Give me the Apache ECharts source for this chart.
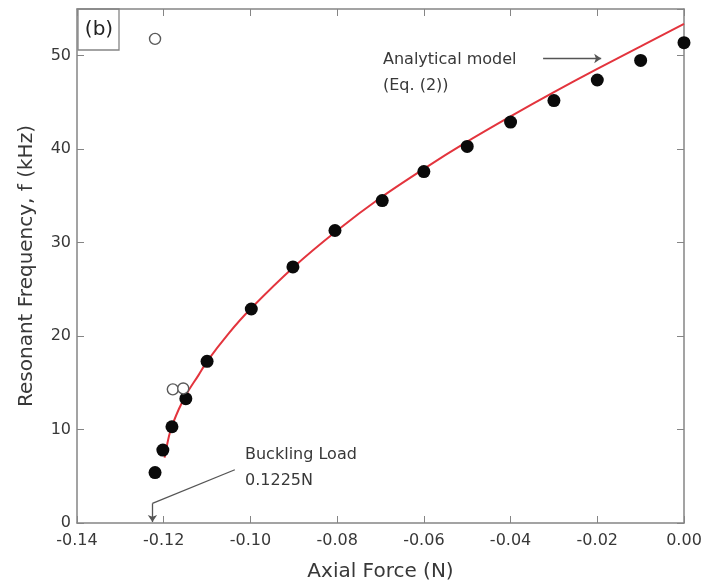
<!DOCTYPE html>
<html>
<head>
<meta charset="utf-8">
<script src="https://cdn.jsdelivr.net/npm/echarts@6.0.0/dist/echarts.min.js"></script>
<style>
  html, body { margin: 0; padding: 0; background: #fff; }
  #chart { width: 703px; height: 583px; }
</style>
</head>
<body>
<div id="chart"></div>
<script>
// measured resonant frequency (filled dots)
const measured = [
  [-0.1220, 5.4], [-0.1202, 7.8], [-0.1181, 10.3], [-0.1149, 13.3],
  [-0.1100, 17.3], [-0.0998, 22.9], [-0.0902, 27.4], [-0.0805, 31.3],
  [-0.0696, 34.5], [-0.0600, 37.6], [-0.0500, 40.3], [-0.0400, 42.9],
  [-0.0300, 45.2], [-0.0200, 47.4], [-0.0100, 49.5], [0.0000, 51.4]
]
// open circles (other mode / outliers)
const openPts = [[-0.1220, 51.8], [-0.1179, 14.3], [-0.1155, 14.4]]
// analytical model curve
const model = [
  [-0.1198, 7.0], [-0.1185, 9.8], [-0.1165, 12.2], [-0.1145, 14.0],
  [-0.1120, 15.8], [-0.1100, 17.3], [-0.1050, 20.3], [-0.1000, 22.9],
  [-0.0900, 27.4], [-0.0800, 31.3], [-0.0700, 34.8], [-0.0600, 37.9],
  [-0.0500, 40.8], [-0.0400, 43.5], [-0.0300, 46.1], [-0.0200, 48.6],
  [-0.0100, 51.0], [0.0000, 53.4]
]
const xRange = [-0.14, 0]
const yRange = [0, 55]

const axisGray = '#858585'
const textGray = '#383838'
const font = 'DejaVu Sans'

const chart = echarts.init(document.getElementById('chart'))

function frameAxis(pos) {
  return {
    type: 'value',
    position: pos,
    min: pos === 'top' ? xRange[0] : yRange[0],
    max: pos === 'top' ? xRange[1] : yRange[1],
    interval: pos === 'top' ? 0.02 : 10,
    axisLine: { show: true, onZero: false, lineStyle: { color: axisGray, width: 1.5 } },
    axisTick: { show: true, inside: true, length: 7, lineStyle: { color: axisGray } },
    axisLabel: { show: false },
    splitLine: { show: false },
  }
}

chart.setOption({
  animation: false,
  backgroundColor: '#fff',
  grid: { left: 77, right: 19, top: 9, bottom: 60, outerBoundsMode: 'none', containLabel: false },
  xAxis: [
    {
      type: 'value',
      min: xRange[0],
      max: xRange[1],
      interval: 0.02,
      name: 'Axial Force (N)',
      nameLocation: 'middle',
      nameGap: 39,
      nameTextStyle: { fontFamily: font, fontSize: 20, color: textGray },
      axisLine: { show: true, onZero: false, lineStyle: { color: axisGray, width: 1.5 } },
      axisTick: { show: true, inside: true, length: 7, lineStyle: { color: axisGray } },
      axisLabel: {
        fontFamily: font, fontSize: 16, color: textGray, margin: 10,
        formatter: (v) => v.toFixed(2),
      },
      splitLine: { show: false },
    },
    frameAxis('top'),
  ],
  yAxis: [
    {
      type: 'value',
      min: yRange[0],
      max: yRange[1],
      interval: 10,
      name: 'Resonant Frequency, f (kHz)',
      nameLocation: 'middle',
      nameGap: 40,
      nameTextStyle: { fontFamily: font, fontSize: 20, color: textGray },
      axisLine: { show: true, onZero: false, lineStyle: { color: axisGray, width: 1.5 } },
      axisTick: { show: true, inside: true, length: 7, lineStyle: { color: axisGray } },
      axisLabel: { fontFamily: font, fontSize: 16, color: textGray, margin: 6, showMaxLabel: false },
      splitLine: { show: false },
    },
    frameAxis('right'),
  ],
  series: [
    {
      name: 'Analytical model',
      type: 'line',
      data: model,
      smooth: 0.3,
      showSymbol: false,
      lineStyle: { color: '#e3343d', width: 2 },
      z: 3,
    },
    {
      name: 'Measured',
      type: 'scatter',
      data: measured,
      symbolSize: 13,
      itemStyle: { color: '#0a0a0a', opacity: 1 },
      z: 4,
    },
    {
      name: 'Open',
      type: 'scatter',
      data: openPts,
      symbolSize: 11,
      itemStyle: { color: '#fff', borderColor: '#5a5a5a', borderWidth: 1.4, opacity: 1 },
      z: 4,
    },
    // annotation arrows
    {
      type: 'line',
      data: [],
      markLine: {
        silent: true,
        animation: false,
        lineStyle: { color: '#555', width: 1.3, type: 'solid' },
        label: { show: false },
        data: [
          [
            { coord: [-0.0325, 49.7], symbol: 'none' },
            { coord: [-0.0191, 49.7], symbol: 'arrow', symbolSize: 7 },
          ],
          [
            { coord: [-0.1036, 5.7], symbol: 'none' },
            { coord: [-0.1226, 2.1], symbol: 'none' },
          ],
          [
            { coord: [-0.1226, 2.1], symbol: 'none' },
            { coord: [-0.1226, 0.1], symbol: 'arrow', symbolSize: 7 },
          ],
        ],
      },
    },
  ],
  graphic: [
    {
      type: 'rect',
      shape: { x: 78, y: 9, width: 41, height: 41 },
      style: { fill: 'none', stroke: axisGray, lineWidth: 1.3 },
    },
    {
      type: 'text',
      x: 99, y: 30,
      style: {
        text: '(b)', fontFamily: font, fontSize: 20, fill: '#222',
        align: 'center', verticalAlign: 'middle',
      },
    },
    {
      type: 'text',
      x: 383, y: 60,
      style: { text: 'Analytical model', fontFamily: font, fontSize: 16, fill: textGray, verticalAlign: 'middle' },
    },
    {
      type: 'text',
      x: 383, y: 86,
      style: { text: '(Eq. (2))', fontFamily: font, fontSize: 16, fill: textGray, verticalAlign: 'middle' },
    },
    {
      type: 'text',
      x: 245, y: 455,
      style: { text: 'Buckling Load', fontFamily: font, fontSize: 16, fill: textGray, verticalAlign: 'middle' },
    },
    {
      type: 'text',
      x: 245, y: 481,
      style: { text: '0.1225N', fontFamily: font, fontSize: 16, fill: textGray, verticalAlign: 'middle' },
    },
  ],
})
</script>
</body>
</html>
